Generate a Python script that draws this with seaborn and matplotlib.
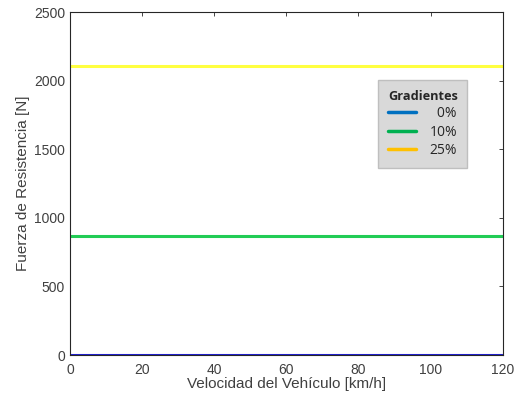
import matplotlib
matplotlib.use("Agg")
import matplotlib.pyplot as plt
import seaborn as sns
import pandas as pd
from matplotlib.lines import Line2D

speed = [0, 120]
gradient_labels = ["\u20070%", "10%", "25%"]
force_0 = [3, 3]
force_10 = [866, 866]
force_25 = [2105, 2105]
line_colors = ["#2020D0", "#22CC55", "#FFFF40"]
legend_colors = ["#0070C0", "#00B050", "#FFC000"]

df = pd.DataFrame({
    "speed": speed * 3,
    "force": force_0 + force_10 + force_25,
    "grad": [g for g in gradient_labels for _ in speed],
})

sns.set_theme(style="white")
plt.rcParams["font.family"] = ["Liberation Sans", "DejaVu Sans"]

fig = plt.figure(figsize=(5.15, 3.98), dpi=100)
ax = fig.add_axes([0.136, 0.108, 0.840, 0.861])
sns.lineplot(data=df, x="speed", y="force", hue="grad", palette=line_colors,
             linewidth=2.2, ax=ax, legend=False)

ax.set_xlim(0, 120)
ax.set_ylim(0, 2500)
ax.set_xticks([0, 20, 40, 60, 80, 100, 120])
ax.set_yticks([0, 500, 1000, 1500, 2000, 2500])
ax.tick_params(direction="in", length=3, width=0.6, colors="#262626",
               labelsize=10, top=True, right=True, labelcolor="#404040")
ax.tick_params(axis="x", pad=6)
for s in ax.spines.values():
    s.set_color("#262626")
    s.set_linewidth(0.8)
ax.set_xlabel("Velocidad del Vehículo [km/h]", fontsize=11, color="#404040", labelpad=0)
ax.set_ylabel("Fuerza de Resistencia [N]", fontsize=11, color="#404040", labelpad=3)

handles = [Line2D([0], [0], color=c, lw=2.5) for c in legend_colors]
leg = ax.legend(handles, gradient_labels, title="Gradientes",
                loc="upper left", bbox_to_anchor=(0.712, 0.803),
                borderaxespad=0,
                frameon=True, fancybox=False, facecolor="#D9D9D9",
                edgecolor="#BFBFBF", framealpha=1, handlelength=2.0,
                handletextpad=1.0, alignment="left",
                prop={"family": ["Open Sans", "DejaVu Sans"], "size": 10},
                borderpad=0.7, labelspacing=0.25)
leg.get_title().set_fontweight("bold")
leg.get_title().set_fontfamily(["Open Sans", "DejaVu Sans"])
leg.get_title().set_fontsize(9.2)

fig.savefig("out.png", dpi=100)
